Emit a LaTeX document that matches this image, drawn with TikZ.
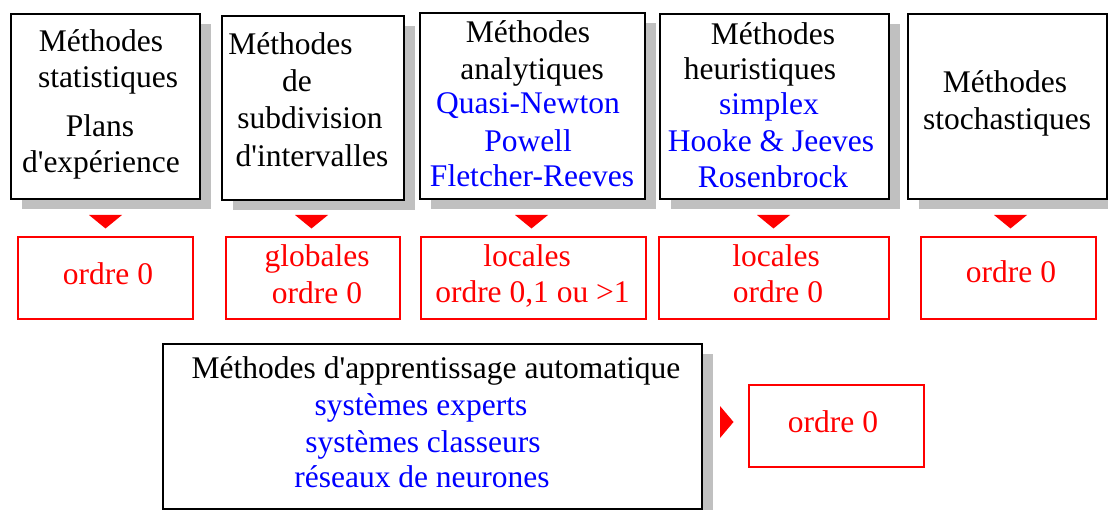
\documentclass[tikz,border=0pt]{standalone}
\usepackage{fontspec}
\setmainfont{Liberation Serif}
\usetikzlibrary{shadows}
\definecolor{shgray}{RGB}{192,192,192}
\definecolor{txtblue}{RGB}{0,0,255}
\definecolor{txtred}{RGB}{255,0,0}
\begin{document}
\begin{tikzpicture}[x=1pt,y=-1pt,
  every node/.style={font=\fontsize{31.5}{36}\selectfont},
  mbox/.style={draw=black, line width=2pt, fill=white, inner sep=0pt,
    drop shadow={shadow xshift=11pt, shadow yshift=-10pt, fill=shgray, opacity=1}},
  rbox/.style={draw=txtred, line width=1.6pt, inner sep=0pt},
  tb/.style={anchor=base, inner sep=0pt, text=black},
  tblue/.style={tb, text=txtblue},
  tred/.style={tb, text=txtred},
  tri/.style={fill=txtred}]
\useasboundingbox (0,0) rectangle (1108,510);
% black boxes
\node[mbox, minimum width=189pt, minimum height=185pt] (b1) at (105.5,106.5) {};
\node[mbox, minimum width=182pt, minimum height=184pt] (b2) at (313,108) {};
\node[mbox, minimum width=225pt, minimum height=186pt] (b3) at (532.5,106) {};
\node[mbox, minimum width=229pt, minimum height=185pt] (b4) at (774.5,106.5) {};
\node[mbox, minimum width=199pt, minimum height=185pt] (b5) at (1007.5,106.5) {};
\node[mbox, minimum width=539pt, minimum height=165pt] (b6) at (432.5,426.5) {};
% red boxes
\node[rbox, minimum width=175pt, minimum height=82pt] (r1) at (105.5,278) {};
\node[rbox, minimum width=174pt, minimum height=82pt] (r2) at (313,278) {};
\node[rbox, minimum width=225pt, minimum height=82pt] (r3) at (533.5,278) {};
\node[rbox, minimum width=230pt, minimum height=82pt] (r4) at (774,278) {};
\node[rbox, minimum width=175pt, minimum height=82pt] (r5) at (1008.5,278) {};
\node[rbox, minimum width=175pt, minimum height=82pt] (r6) at (836.5,426) {};
% triangles
\foreach \cx in {105.5,311.5,531.5,773.5,1010.5}
  \fill[tri] (\cx-16.5,215) -- (\cx+16.5,215) -- (\cx,228.5) -- cycle;
\fill[tri] (720,406) -- (720,438) -- (733.5,422) -- cycle;
% texts box 1
\node[tb] (t11) at (101,52) {Méthodes};
\node[tb] (t12) at (108,88) {statistiques};
\node[tb] (t13) at (100,137) {Plans};
\node[tb] (t14) at (101,173) {d\textquotesingle expérience};
% box 2
\node[tb] (t21) at (290.5,55) {Méthodes};
\node[tb] (t22) at (297,92) {de};
\node[tb] (t23) at (310,129) {subdivision};
\node[tb] (t24) at (312,167) {d\textquotesingle intervalles};
% box 3
\node[tb] (t31) at (528,43) {Méthodes};
\node[tb] (t32) at (532,80) {analytiques};
\node[tblue] (t33) at (528,114) {Quasi-Newton};
\node[tblue] (t34) at (528,152) {Powell};
\node[tblue] (t35) at (532,187) {Fletcher-Reeves};
% box 4
\node[tb] (t41) at (773,45) {Méthodes};
\node[tb] (t42) at (760,80) {heuristiques};
\node[tblue] (t43) at (769,115) {simplex};
\node[tblue] (t44) at (771,152) {Hooke \& Jeeves};
\node[tblue] (t45) at (773,188) {Rosenbrock};
% box 5
\node[tb] (t51) at (1005,93) {Méthodes};
\node[tb] (t52) at (1007,130) {stochastiques};
% box 6
\node[tb] (t61) at (436,378) {Méthodes d\textquotesingle apprentissage automatique};
\node[tblue] (t62) at (421,415) {systèmes experts};
\node[tblue] (t63) at (423,452) {systèmes classeurs};
\node[tblue] (t64) at (422,487) {réseaux de neurones};
% red texts
\node[tred] (s1) at (108,285) {ordre 0};
\node[tred] (s21) at (317,267) {globales};
\node[tred] (s22) at (317,304) {ordre 0};
\node[tred] (s31) at (527,267) {locales};
\node[tred] (s32) at (532.5,303) {ordre 0,1 ou >1};
\node[tred] (s41) at (776,267) {locales};
\node[tred] (s42) at (778,303) {ordre 0};
\node[tred] (s5) at (1011,283) {ordre 0};
\node[tred] (s6) at (833,432) {ordre 0};
\end{tikzpicture}
\end{document}
